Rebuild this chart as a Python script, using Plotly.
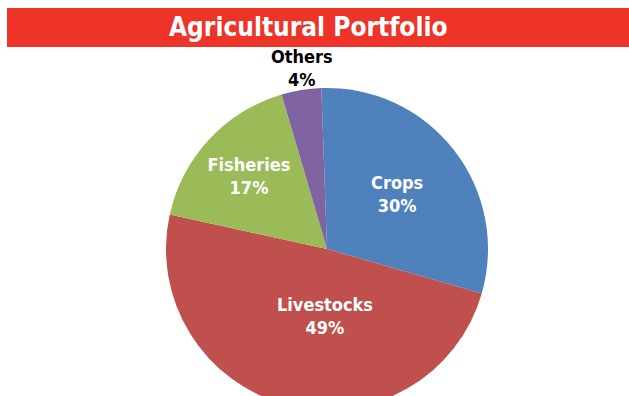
import plotly.graph_objects as go

categories = ["Crops", "Livestocks", "Fisheries", "Others"]
shares = [30, 49, 17, 4]
slice_colors = ["#4F81BD", "#C0504D", "#9BBB59", "#8064A2"]
title_text = "Agricultural Portfolio"

W, H = 629, 422
cx, cy, r = 327, 249, 161
FONT = "DejaVu Sans Condensed, DejaVu Sans"
FS = 18

# slices whose label the pie places itself; others get an annotation
auto_label = [True, False, True, False]
# label centres (pixels from top-left) for annotated slices
label_pos = {"Livestocks": (325, 316, "white"), "Others": (302, 68, "black")}

total = sum(shares)
fig = go.Figure(go.Pie(
    labels=categories,
    values=shares,
    sort=False,
    direction="clockwise",
    rotation=-2,
    marker=dict(colors=slice_colors, line=dict(color="white", width=0)),
    texttemplate=["%{label}<br>%{percent}" if a else "" for a in auto_label],
    textposition="inside",
    insidetextorientation="horizontal",
    textfont=dict(family=FONT, size=FS, weight="bold", color="white"),
    domain=dict(x=[(cx - r) / W, (cx + r) / W], y=[(H - cy - r) / H, (H - cy + r) / H]),
    showlegend=False,
    hoverinfo="label+percent",
))

for cat, val, a in zip(categories, shares, auto_label):
    if a:
        continue
    px, py, col = label_pos[cat]
    fig.add_annotation(text=f"{cat}<br>{round(100 * val / total)}%", xref="paper", yref="paper",
                       x=px / W, y=1 - py / H, xanchor="center", yanchor="middle", showarrow=False,
                       font=dict(family=FONT, size=FS, weight="bold", color=col))

fig.add_shape(type="rect", xref="paper", yref="paper",
              x0=7 / W, x1=1.0, y0=1 - 47 / H, y1=1 - 8 / H,
              fillcolor="#EE3329", line=dict(width=0), layer="below")
fig.add_annotation(text=title_text, xref="paper", yref="paper",
                   x=308 / W, y=1 - 27.5 / H, xanchor="center", yanchor="middle",
                   showarrow=False,
                   font=dict(family=FONT, size=26, weight="bold", color="white"))

fig.update_layout(width=W, height=H, margin=dict(l=0, r=0, t=0, b=0),
                  paper_bgcolor="white", plot_bgcolor="white")

fig.write_html("out.html", post_script="document.documentElement.style.overflow='hidden';document.body.style.overflow='hidden';document.body.style.margin='0';")
